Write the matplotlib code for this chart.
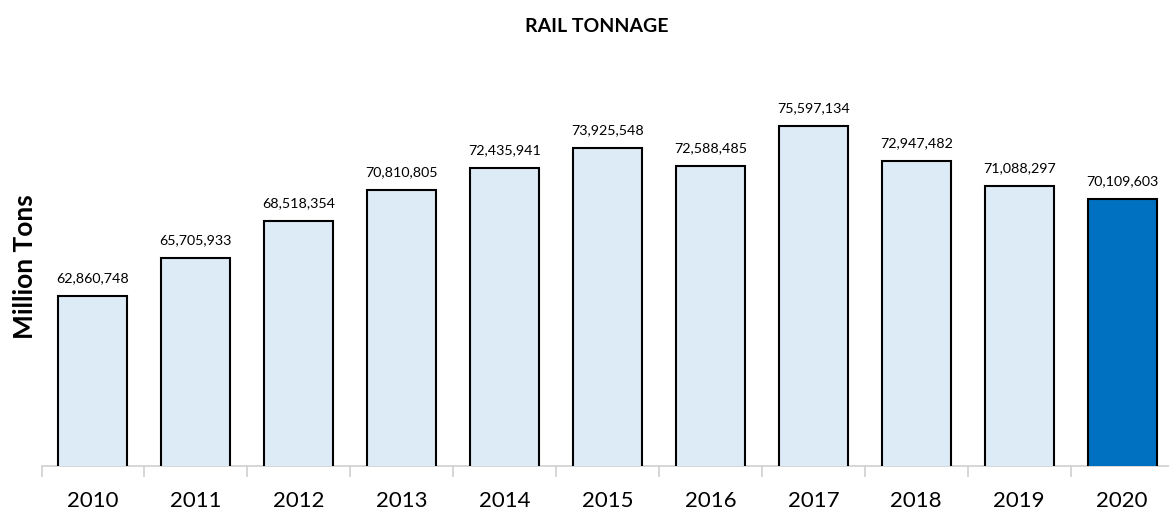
import matplotlib
matplotlib.use("Agg")
import matplotlib.pyplot as plt

years = ["2010", "2011", "2012", "2013", "2014", "2015", "2016", "2017", "2018", "2019", "2020"]
tonnage = [62860748, 65705933, 68518354, 70810805, 72435941, 73925548,
           72588485, 75597134, 72947482, 71088297, 70109603]

plt.rcParams["font.family"] = ["Lato", "DejaVu Sans"]

fig = plt.figure(figsize = (11.69, 5.16), dpi = 100)
ax = fig.add_axes([41.5 / 1169, 50 / 516, 1132 / 1169, 400.5 / 516])

colors = ["#DDEBF7"] * (len(years) - 1) + ["#0070C0"]
x = range(len(years))
bars = ax.bar(x, tonnage, width = 0.67, color = colors, edgecolor = "black", linewidth = 1.5, zorder = 3)

for xi, val in zip(x, tonnage):
    ax.annotate(f"{val:,}", (xi, val), xytext = (0, 8.5), textcoords = "offset points",
                ha = "center", va = "bottom", fontsize = 10.3)

ax.set_ylim(50.13e6, 80.13e6)
ax.set_xlim(-0.5, len(years) - 0.5)
for side in ["top", "right", "left"]:
    ax.spines[side].set_visible(False)
ax.spines["bottom"].set_color("#D0D0D0")
ax.spines["bottom"].set_linewidth(1.2)
ax.set_yticks([])

ax.set_xticks(x)
ax.set_xticklabels(years, fontsize = 16)
ax.tick_params(axis = "x", length = 0, pad = 18)
ax.set_xticks([i - 0.5 for i in range(len(years) + 1)], minor = True)
ax.tick_params(axis = "x", which = "minor", length = 8, color = "#D0D0D0", width = 1.2)

fig.text(25 / 1169, 1 - 267 / 516, "Million Tons", rotation = 90, ha = "center", va = "center",
         fontsize = 19, fontweight = "bold")
fig.text(597 / 1169, 1 - 27 / 516, "RAIL TONNAGE", ha = "center", va = "center",
         fontsize = 14, fontweight = "bold")

fig.savefig("out.png", dpi = 100)
